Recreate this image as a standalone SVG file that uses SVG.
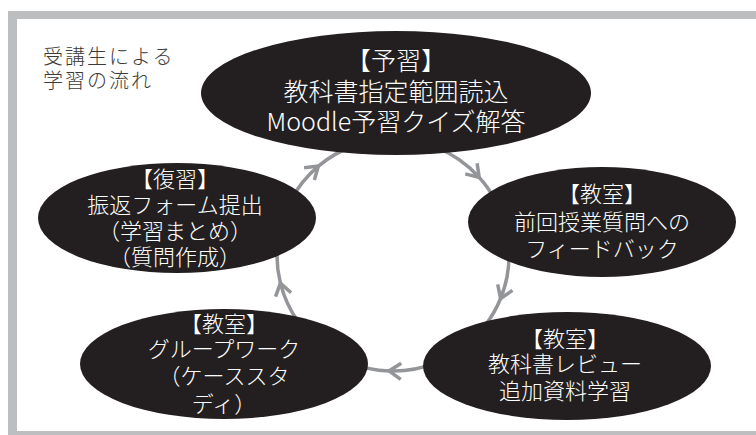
<svg xmlns="http://www.w3.org/2000/svg" width="756" height="435" viewBox="0 0 756 435">
<defs>
<style>
.node{fill:#231f20}
.lbl{fill:#ffffff;font-family:"Noto Sans CJK JP","Noto Sans",sans-serif;font-size:22px;font-weight:300;text-anchor:middle}
.big{font-size:25px}
.title{fill:#3a3a3a;font-family:"Noto Sans CJK JP","Noto Sans",sans-serif;font-size:20px;font-weight:300;letter-spacing:2px}
.conn{fill:none;stroke:#939598;stroke-width:3.5;marker-mid:url(#chev)}
</style>
<marker id="chev" markerUnits="userSpaceOnUse" markerWidth="30" markerHeight="30" refX="0" refY="0" viewBox="-15 -15 30 30" orient="auto" overflow="visible">
<path d="M-12,-8 L0,0 L-12,8" fill="none" stroke="#939598" stroke-width="3.5" stroke-linejoin="miter"/>
</marker>
</defs>
<rect x="8" y="11" width="748" height="424" fill="#bcbec0"/>
<rect x="17" y="19" width="739" height="412" fill="#ffffff"/>
<g id="title">
<text class="title" x="43" y="64">受講生による</text>
<text class="title" x="43" y="88">学習の流れ</text>
</g>
<g id="connectors">
<path class="conn" d="M436.5,147.4 A116,116 0 0 1 479.2,177.4 A116,116 0 0 1 495.4,200.5"/>
<path class="conn" d="M507.2,234.9 A116,116 0 0 1 500.6,298.5 A116,116 0 0 1 484.4,326.4"/>
<path class="conn" d="M436.5,362.6 A116,116 0 0 1 389,370.9 A116,116 0 0 1 349.5,362.6"/>
<path class="conn" d="M298,321.5 A116,116 0 0 1 280.4,283.1 A116,116 0 0 1 279.5,230.9"/>
<path class="conn" d="M290.6,200.5 A116,116 0 0 1 318.4,166.1 A116,116 0 0 1 353.3,146"/>
</g>
<g id="yoshu">
<ellipse class="node" cx="396" cy="93" rx="195" ry="62"/>
<text class="lbl big" x="396" y="70">【予習】</text>
<text class="lbl big" x="396" y="101">教科書指定範囲読込</text>
<text class="lbl big" x="396" y="131">Moodle予習クイズ解答</text>
</g>
<g id="feedback">
<ellipse class="node" cx="602" cy="222" rx="134" ry="55"/>
<text class="lbl" x="602" y="202">【教室】</text>
<text class="lbl" x="602" y="230">前回授業質問への</text>
<text class="lbl" x="602" y="257">フィードバック</text>
</g>
<g id="review">
<ellipse class="node" cx="567" cy="366" rx="144" ry="54"/>
<text class="lbl" x="565" y="347">【教室】</text>
<text class="lbl" x="565" y="372">教科書レビュー</text>
<text class="lbl" x="565" y="399">追加資料学習</text>
</g>
<g id="group">
<ellipse class="node" cx="224" cy="364" rx="144" ry="55"/>
<text class="lbl" x="224" y="332">【教室】</text>
<text class="lbl" x="224" y="357">グループワーク</text>
<text class="lbl" x="224" y="384">（ケーススタ</text>
<text class="lbl" x="224" y="412">ディ）</text>
</g>
<g id="fukushu">
<ellipse class="node" cx="177" cy="218" rx="139" ry="55"/>
<text class="lbl" x="175" y="187">【復習】</text>
<text class="lbl" x="175" y="213">振返フォーム提出</text>
<text class="lbl" x="175" y="239">（学習まとめ）</text>
<text class="lbl" x="175" y="265">（質問作成）</text>
</g>
</svg>
